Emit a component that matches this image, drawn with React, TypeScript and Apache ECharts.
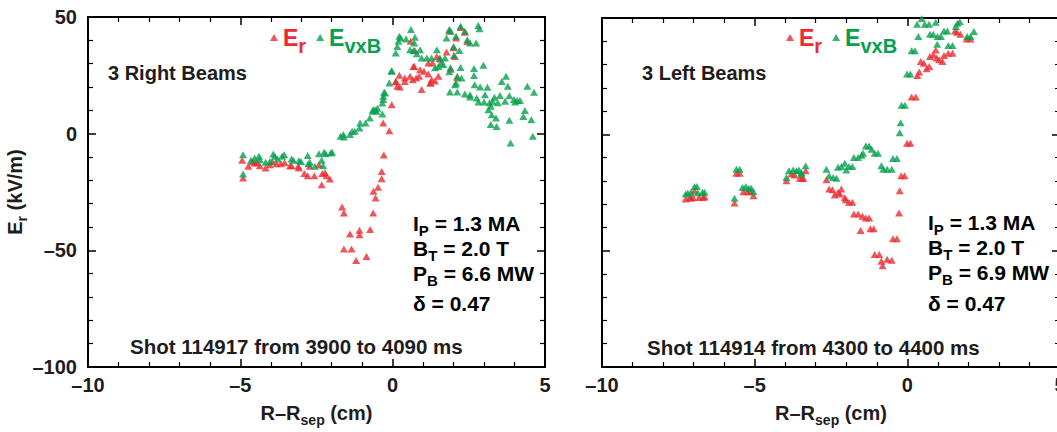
import React, { useEffect, useRef } from 'react';
import * as echarts from 'echarts';

const FONT = '"Liberation Sans", Arial, Helvetica, sans-serif';
const TXT = '#1e1c1d';
const RED = '#ec2a30';
const GREEN = '#06a04e';

const X_TICKS = [-10, -5, 0, 5];
const Y_TICKS = [-100, -50, 0, 50];

const leftEr: number[][] = [
  [-4.94, -11.4], [-4.91, -19.0], [-4.74, -14.0], [-4.6, -12.0], [-4.53, -12.6], [-4.45, -12.5], [-4.36, -13.7],
  [-4.17, -14.7], [-4.03, -13.3], [-3.95, -12.0], [-3.81, -12.9], [-3.67, -12.9], [-3.55, -12.4], [-3.37, -13.7],
  [-3.32, -13.7], [-3.10, -14.0], [-3.08, -14.7], [-2.90, -17.1], [-2.79, -18.0], [-2.72, -14.0], [-2.57, -18.0],
  [-2.42, -13.3], [-2.33, -21.9], [-2.31, -17.1], [-2.22, -16.8], [-2.17, -18.0], [-2.06, -19.4],
  [-1.66, -31.4], [-1.60, -34.0], [-1.40, -43.0], [-1.09, -41.4], [-1.09, -43.3], [-1.60, -49.4], [-1.35, -49.4],
  [-1.20, -54.4], [-0.86, -52.6], [-0.74, -41.1], [-0.64, -34.0], [-0.56, -27.6], [-0.63, -24.7], [-0.48, -23.0],
  [-0.36, -19.3], [-0.36, -16.2], [-0.29, -9.1],
  [-0.31, 4.6], [-0.11, 1.3], [-0.03, 12.4], [0.10, 22.4], [0.15, 20.3], [0.22, 25.0], [0.24, 20.0], [0.11, 22.3],
  [0.40, 23.9], [0.40, 22.4], [0.57, 24.6], [0.66, 23.1], [0.77, 23.9], [0.87, 24.6], [0.95, 18.9], [1.03, 26.7],
  [1.17, 25.6], [1.23, 21.7], [1.28, 23.1], [1.39, 22.6], [1.50, 24.6], [1.17, 30.3], [0.68, 28.8], [0.90, 27.4],
  [1.31, 30.3], [1.45, 33.1], [0.59, 39.6], [1.77, 35.0], [2.04, 33.1], [0.73, 35.6], [0.71, 28.8], [1.25, 21.7],
  [1.86, 44.0], [2.08, 41.0], [2.23, 45.5], [2.37, 43.5], [2.0, 36.8], [1.90, 27.6], [2.45, 39.5], [1.55, 32.0], [2.12, 24.0],
];

const leftEvxB: number[][] = [
  [-4.91, -9.0], [-4.91, -17.3], [-4.65, -11.4], [-4.53, -10.4], [-4.39, -9.7], [-4.36, -11.1], [-4.17, -12.3],
  [-4.03, -11.9], [-3.92, -8.7], [-3.87, -9.7], [-3.78, -10.9], [-3.63, -9.7], [-3.56, -9.0], [-3.32, -10.9],
  [-3.26, -11.4], [-3.08, -11.6], [-3.01, -11.9], [-2.79, -9.4], [-2.77, -12.9], [-2.72, -12.3], [-2.55, -14.0],
  [-2.42, -8.6], [-2.33, -11.4], [-2.28, -13.7], [-2.25, -8.0], [-2.20, -8.6], [-2.03, -8.3], [-1.99, -8.0],
  [-1.71, -1.1], [-1.62, -0.4], [-1.60, -1.4], [-1.40, -0.4], [-1.33, 1.0], [-1.24, 1.0], [-1.09, 2.4], [-1.07, 4.6],
  [-0.89, 4.6], [-0.75, 6.7], [-0.66, 9.6], [-0.58, 10.3], [-0.64, 10.3], [-0.53, 9.6], [-0.50, 10.9], [-0.34, 13.1],
  [-0.34, 8.4], [-0.31, 16.0], [-0.28, 17.7], [-0.31, 14.6], [-0.25, 17.4], [-0.11, 21.7], [-0.04, 26.7], [-0.03, 27.0],
  [0.10, 34.6], [0.15, 37.4], [0.19, 39.6], [0.22, 41.7], [0.26, 41.0], [0.44, 40.6], [0.60, 44.6], [0.73, 41.3],
  [0.71, 38.9], [0.57, 36.0], [0.68, 35.6], [0.90, 36.0], [0.79, 34.2], [0.95, 32.4], [1.12, 32.4], [1.28, 32.4],
  [1.45, 36.0], [1.55, 32.4], [1.59, 30.3], [1.50, 28.8], [1.39, 28.2], [1.66, 29.6], [1.72, 32.4], [1.86, 44.6],
  [1.90, 43.9], [2.23, 46.0], [2.37, 43.9], [2.08, 41.7], [1.77, 41.0], [2.45, 40.3], [2.54, 38.9], [2.74, 38.9],
  [2.81, 46.4], [2.85, 45.0], [2.00, 37.4], [2.01, 33.6], [2.19, 35.6], [1.90, 28.2], [1.86, 26.5], [2.12, 24.6],
  [2.26, 23.9], [2.23, 28.4], [2.67, 27.9], [2.67, 24.9], [2.98, 29.3],
  [2.08, 21.7], [2.05, 21.0], [2.12, 17.9], [1.88, 17.9], [2.37, 17.0], [2.54, 16.7], [2.69, 21.0], [2.87, 20.0],
  [3.11, 19.9], [3.03, 16.7], [3.00, 13.6], [2.82, 13.6], [2.76, 15.3], [2.54, 15.7], [3.18, 13.2], [3.28, 13.9],
  [3.34, 15.6], [3.45, 13.2], [3.52, 16.4], [3.69, 13.9], [3.72, 24.6], [3.58, 22.4], [3.78, 20.3], [3.83, 16.3],
  [4.02, 13.6], [3.98, 14.6], [4.09, 14.2], [4.18, 14.2], [4.34, 9.9], [4.29, 7.4], [4.42, 20.3], [4.64, 17.7],
  [4.55, 6.0], [4.60, -1.1], [3.87, -4.0], [3.22, 3.9], [3.41, 3.1], [3.39, 6.7], [3.25, 8.1], [3.83, 5.7],
  [3.14, 10.3], [3.22, 11.7],
];

const rightEr: number[][] = [
  [-7.26, -27.8], [-7.13, -27.1], [-7.08, -27.5], [-7.02, -27.1], [-6.97, -24.2], [-6.82, -27.1], [-6.69, -27.1], [-6.64, -26.8],
  [-5.60, -16.7], [-5.49, -16.7], [-5.66, -29.5],
  [-5.37, -24.7], [-5.24, -24.7], [-5.13, -24.7], [-5.04, -26.4],
  [-3.96, -20.0], [-3.80, -17.1], [-3.69, -17.5], [-3.52, -18.9], [-3.41, -18.9], [-3.33, -15.7], [-3.44, -19.0],
  [-2.65, -19.5], [-2.56, -23.5], [-2.45, -23.8], [-2.38, -26.1], [-2.27, -24.9], [-2.16, -23.5], [-2.21, -25.6],
  [-2.05, -27.1], [-2.02, -28.1], [-1.91, -29.2], [-1.80, -29.2], [-1.75, -34.2], [-1.61, -34.2], [-1.47, -35.2],
  [-1.36, -36.0], [-1.25, -36.0], [-1.53, -41.3], [-1.21, -40.6], [-1.10, -40.6], [-1.07, -51.7], [-0.92, -51.7],
  [-0.85, -54.6], [-0.66, -53.7], [-0.51, -54.1], [-0.81, -56.5], [-0.47, -44.9], [-0.34, -44.9], [-0.27, -33.8],
  [-0.25, -24.2], [-0.20, -17.8], [-0.09, -17.8], [-0.01, -3.8], [0.10, -3.8],
  [0.14, 16.0], [0.28, 16.0], [0.33, 25.3], [0.39, 26.8], [0.44, 31.3], [0.54, 30.6], [0.63, 28.2], [0.72, 29.2],
  [0.74, 33.5], [0.85, 34.2], [0.93, 36.3], [0.96, 32.8], [1.04, 32.1], [1.15, 31.3], [1.20, 33.9], [1.34, 34.9],
  [1.48, 34.9], [1.56, 44.4], [1.63, 43.9], [1.74, 43.0], [1.94, 41.0], [2.07, 41.0],
];

const rightEvxB: number[][] = [
  [-7.26, -25.6], [-7.19, -25.2], [-7.08, -24.9], [-6.97, -22.4], [-6.89, -22.4], [-6.86, -25.2], [-6.71, -24.9], [-6.64, -24.9],
  [-5.60, -15.0], [-5.49, -15.0], [-5.66, -27.5],
  [-5.40, -22.8], [-5.29, -22.4], [-5.19, -23.2], [-5.11, -23.2], [-5.04, -24.7],
  [-3.96, -18.5], [-3.88, -15.7], [-3.74, -15.3], [-3.63, -15.7], [-3.55, -15.3], [-3.47, -17.1], [-3.33, -13.5], [-3.47, -16.4],
  [-2.65, -15.0], [-2.56, -17.8], [-2.43, -18.5], [-2.32, -18.9], [-2.27, -14.2], [-2.16, -13.8], [-2.05, -12.4],
  [-2.00, -15.3], [-1.91, -13.8], [-1.80, -13.8], [-1.75, -10.0], [-1.61, -10.0], [-1.50, -9.0], [-1.45, -8.1],
  [-1.36, -5.0], [-1.25, -5.0], [-1.17, -6.4], [-1.07, -8.1], [-0.96, -8.1], [-0.85, -13.5], [-0.79, -15.0],
  [-0.66, -15.0], [-0.51, -15.0], [-0.47, -10.4], [-0.34, -10.4],
  [-0.25, 0.7], [-0.22, 5.0], [-0.19, 12.5], [-0.08, 12.5], [-0.01, 25.9], [0.10, 25.9], [0.14, 35.9], [0.25, 35.9],
  [0.36, 42.0], [0.32, 47.3], [0.57, 47.3], [0.71, 47.3], [0.74, 43.0], [0.85, 43.0], [0.99, 42.0], [1.10, 42.0],
  [0.93, 48.2], [0.98, 38.7], [1.20, 44.4], [1.31, 44.4], [1.34, 38.2], [1.48, 38.2], [1.59, 46.3], [1.64, 47.7],
  [1.72, 48.4], [1.96, 42.0], [2.07, 42.0], [2.18, 44.2], [0.47, 49.8],
];

const fmt = (v: number) => (v < 0 ? '\u2013' + Math.abs(v) : String(v));

const rs = (fontSize: number, color: string, padTop = 0, padBottom = 0) => ({
  fontSize,
  fontWeight: 'bold',
  fontFamily: FONT,
  color,
  lineHeight: fontSize,
  verticalAlign: 'top',
  padding: [padTop, 0, padBottom, 0],
});

const xAxisFor = (gridIndex: number, pos: 'bottom' | 'top') => ({
  type: 'value',
  gridIndex,
  position: pos,
  min: X_TICKS[0],
  max: X_TICKS[X_TICKS.length - 1],
  interval: X_TICKS[1] - X_TICKS[0],
  axisLine: { show: true, onZero: false, lineStyle: { color: '#000', width: 2 } },
  axisTick: { show: true, inside: true, length: 8, lineStyle: { color: '#000', width: 1.5 } },
  minorTick: { show: true, splitNumber: 5, length: 5, lineStyle: { color: '#000', width: 1.2 } },
  splitLine: { show: false },
  minorSplitLine: { show: false },
  axisLabel: {
    show: pos === 'bottom',
    margin: 8,
    fontSize: 20,
    fontWeight: 'bold',
    fontFamily: FONT,
    color: TXT,
    formatter: (v: number) => fmt(v),
  },
  name: pos === 'bottom' ? '{m|R\u2013R}{s|sep}{m| (cm)}' : '',
  nameLocation: 'middle',
  nameGap: 36,
  nameTextStyle: { rich: { m: rs(20, TXT), s: rs(14, TXT, 10, -4) } },
});

const yAxisFor = (gridIndex: number, pos: 'left' | 'right', labels: boolean) => ({
  type: 'value',
  gridIndex,
  position: pos,
  min: Y_TICKS[0],
  max: Y_TICKS[Y_TICKS.length - 1],
  interval: Y_TICKS[1] - Y_TICKS[0],
  axisLine: { show: true, onZero: false, lineStyle: { color: '#000', width: 2 } },
  axisTick: { show: true, inside: true, length: 8, lineStyle: { color: '#000', width: 1.5 } },
  minorTick: { show: true, splitNumber: 5, length: 5, lineStyle: { color: '#000', width: 1.2 } },
  splitLine: { show: false },
  minorSplitLine: { show: false },
  axisLabel: {
    show: labels,
    margin: 11,
    fontSize: 20,
    fontWeight: 'bold',
    fontFamily: FONT,
    color: TXT,
    formatter: (v: number) => fmt(v),
  },
  name: labels ? '{m|E}{s|r}{m| (kV/m)}' : '',
  nameLocation: 'middle',
  nameGap: 57,
  nameTextStyle: { rich: { m: rs(20, TXT), s: rs(14, TXT, 10, -4) } },
});

const legendFor = (left: number) => ({
  left,
  top: 26,
  padding: 0,
  orient: 'horizontal',
  itemGap: 10,
  itemWidth: 8,
  itemHeight: 7,
  icon: 'triangle',
  selectedMode: false,
  data: ['Er', 'EvxB'],
  formatter: (name: string) => (name === 'Er' ? '{a|E}{b|r}' : '{c|E}{d|vxB}'),
  textStyle: {
    rich: { a: rs(23, RED), b: rs(20, RED, 10), c: rs(23, GREEN), d: rs(20, GREEN, 10) },
  },
});

const paramLines = (x: number, baselines: number[], pb: string) => {
  const texts = [
    '{m|I}{s|P}{m| = 1.3 MA}',
    '{m|B}{s|T}{m| = 2.0 T}',
    '{m|P}{s|B}{m| = ' + pb + ' MW}',
    '{m|\u03b4 = 0.47}',
  ];
  return texts.map((t, i) => ({
    type: 'text',
    x,
    y: baselines[i] - 17.85,
    style: {
      text: t,
      align: 'left',
      verticalAlign: 'top',
      rich: { m: rs(21, TXT), s: rs(15, TXT, 10, -6) },
    },
  }));
};

const plainText = (text: string, x: number, baseline: number, size: number) => ({
  type: 'text',
  x,
  y: baseline - 0.35 * size,
  style: {
    text,
    align: 'left',
    verticalAlign: 'middle',
    fontSize: size,
    fontWeight: 'bold',
    fontFamily: FONT,
    fill: TXT,
  },
});

const scatter = (name: string, idx: number, data: number[][], color: string) => ({
  type: 'scatter',
  name,
  xAxisIndex: idx * 2,
  yAxisIndex: idx * 2,
  data,
  symbol: 'triangle',
  symbolSize: [8, 7],
  itemStyle: { color },
  clip: true,
});

export default function App() {
  const ref = useRef<HTMLDivElement>(null);
  useEffect(() => {
    if (!ref.current) return;
    const chart = echarts.init(ref.current, undefined, { renderer: 'svg' });
    chart.setOption({
      animation: false,
      backgroundColor: '#fff',
      textStyle: { fontFamily: FONT },
      grid: [
        { left: 88, top: 17, width: 457, height: 350 },
        { left: 602, top: 18, width: 458, height: 351 },
      ],
      legend: [legendFor(270), legendFor(786)],
      xAxis: [xAxisFor(0, 'bottom'), xAxisFor(0, 'top'), xAxisFor(1, 'bottom'), xAxisFor(1, 'top')],
      yAxis: [yAxisFor(0, 'left', true), yAxisFor(0, 'right', false), yAxisFor(1, 'left', false), yAxisFor(1, 'right', false)],
      series: [
        scatter('Er', 0, leftEr, RED),
        scatter('EvxB', 0, leftEvxB, GREEN),
        scatter('Er', 1, rightEr, RED),
        scatter('EvxB', 1, rightEvxB, GREEN),
      ],
      graphic: [
        plainText('3 Right Beams', 108, 80, 20),
        plainText('3 Left Beams', 642, 80, 20),
        plainText('Shot 114917 from 3900 to 4090 ms', 130, 354, 20.5),
        plainText('Shot 114914 from 4300 to 4400 ms', 647, 355, 20.5),
        ...paramLines(413, [231, 256, 281, 311], '6.6'),
        ...paramLines(928, [230, 255, 280, 311], '6.9'),
      ],
    });
    return () => chart.dispose();
  }, []);
  return (
    <div style={{ position: 'fixed', left: 0, top: 0, width: 1057, height: 432, overflow: 'hidden', background: '#fff' }}>
      <div ref={ref} style={{ width: 1070, height: 432 }} />
    </div>
  );
}
